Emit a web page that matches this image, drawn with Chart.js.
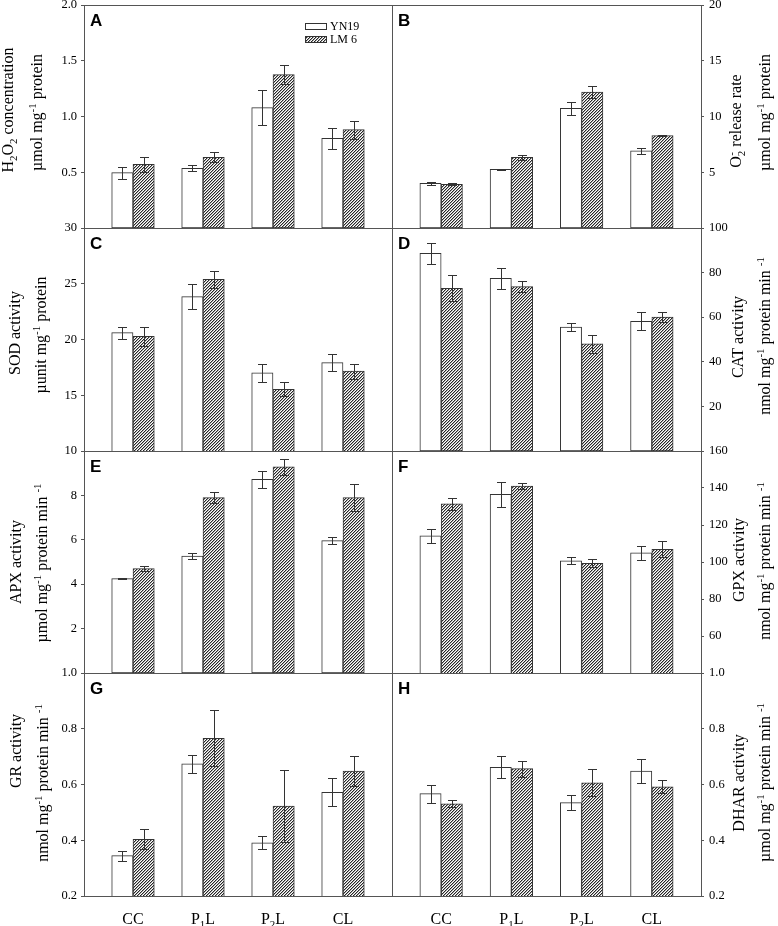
<!DOCTYPE html>
<html>
<head>
<meta charset="utf-8">
<script src="https://cdn.jsdelivr.net/npm/chart.js@4.4.0/dist/chart.umd.min.js"></script>
<style>
    body { margin: 0; background: #fff; width: 778px; height: 926px; position: relative; overflow: hidden; }
    canvas { position: absolute; }
</style>
</head>
<body>
<script>
// Categories and cultivars
const categories = ['CC', 'P1L', 'P2L', 'CL'];
const cultivars = ['YN19', 'LM 6'];

// A - H2O2 concentration
const h2o2YN19 = [0.496, 0.535, 1.079, 0.804];
const h2o2YN19Err = [0.055, 0.027, 0.157, 0.093];
const h2o2LM6 = [0.571, 0.634, 1.375, 0.882];
const h2o2LM6Err = [0.07, 0.045, 0.083, 0.082];
const h2o2Range = [0, 2];
const h2o2Ticks = [0.5, 1.0, 1.5, 2.0];

// B - O2- release rate
const o2YN19 = [4.01, 5.26, 10.73, 6.91];
const o2YN19Err = [0.16, 0.05, 0.61, 0.25];
const o2LM6 = [3.92, 6.34, 12.2, 8.28];
const o2LM6Err = [0.08, 0.24, 0.55, 0.06];
const o2Range = [0, 20];
const o2Ticks = [5, 10, 15, 20];

// C - SOD activity
const sodYN19 = [20.61, 23.84, 17.0, 17.92];
const sodYN19Err = [0.55, 1.1, 0.84, 0.76];
const sodLM6 = [20.28, 25.4, 15.53, 17.17];
const sodLM6Err = [0.88, 0.77, 0.63, 0.67];
const sodRange = [10, 30];
const sodTicks = [15, 20, 25, 30];

// D - CAT activity
const catYN19 = [88.6, 77.4, 55.6, 58.2];
const catYN19Err = [4.7, 4.6, 1.9, 4.1];
const catLM6 = [73.0, 73.7, 48.1, 60.1];
const catLM6Err = [5.8, 2.6, 4.0, 2.4];
const catRange = [0, 100];
const catTicks = [20, 40, 60, 80, 100];

// E - APX activity
const apxYN19 = [4.25, 5.27, 8.72, 5.96];
const apxYN19Err = [0.03, 0.15, 0.4, 0.15];
const apxLM6 = [4.70, 7.90, 9.29, 7.90];
const apxLM6Err = [0.12, 0.25, 0.35, 0.6];
const apxRange = [0, 10];
const apxTicks = [2, 4, 6, 8, 10];

// F - GPX activity
const gpxYN19 = [114.1, 136.6, 100.7, 105.0];
const gpxYN19Err = [4, 6.7, 1.9, 3.8];
const gpxLM6 = [131.5, 141.1, 99.3, 106.9];
const gpxLM6Err = [3.3, 1.6, 2.2, 4.4];
const gpxRange = [40, 160];
const gpxTicks = [60, 80, 100, 120, 140, 160];

// G - GR activity
const grYN19 = [0.345, 0.674, 0.391, 0.572];
const grYN19Err = [0.018, 0.033, 0.024, 0.05];
const grLM6 = [0.403, 0.766, 0.523, 0.648];
const grLM6Err = [0.036, 0.1, 0.13, 0.055];
const grRange = [0.2, 1.0];
const grTicks = [0.2, 0.4, 0.6, 0.8, 1.0];

// H - DHAR activity
const dharYN19 = [0.567, 0.662, 0.535, 0.648];
const dharYN19Err = [0.032, 0.039, 0.028, 0.043];
const dharLM6 = [0.531, 0.657, 0.606, 0.592];
const dharLM6Err = [0.012, 0.029, 0.048, 0.024];
const dharRange = [0.2, 1.0];
const dharTicks = [0.2, 0.4, 0.6, 0.8, 1.0];

// Layout
const SERIF = "'Liberation Serif', 'Times New Roman', serif";
const SANS = "'Liberation Sans', Arial, sans-serif";
const FRAME = '#555';
const INK = '#333';
const ROW_TOP = [5, 228, 451, 673];
const ROW_H = [223, 223, 222, 223];
const PAD = 12;
const X_LABEL_SPACE = 36;

const unitUmol = [{ t: 'µmol mg' }, { t: '-1', m: 'sup' }, { t: ' protein' }];
const unitPerMin = (lead) => [{ t: lead + ' mg' }, { t: '-1', m: 'sup' }, { t: ' protein min ' }, { t: '-1', m: 'sup' }];
const xLabels = [
    [{ t: 'CC' }],
    [{ t: 'P' }, { t: '1', m: 'sub' }, { t: 'L' }],
    [{ t: 'P' }, { t: '2', m: 'sub' }, { t: 'L' }],
    [{ t: 'CL' }]
];

const panels = [
    { letter: 'A', col: 0, row: 0, range: h2o2Range, ticks: h2o2Ticks, dec: 1,
      yn: h2o2YN19, ynErr: h2o2YN19Err, lm: h2o2LM6, lmErr: h2o2LM6Err, legend: true,
      titles: [
          { parts: [{ t: 'H' }, { t: '2', m: 'sub' }, { t: 'O' }, { t: '2', m: 'sub' }, { t: ' concentration' }], x: 12.5, y: 110 },
          { parts: unitUmol, x: 41.5, y: 112.5 }] },
    { letter: 'B', col: 1, row: 0, range: o2Range, ticks: o2Ticks, dec: 0,
      yn: o2YN19, ynErr: o2YN19Err, lm: o2LM6, lmErr: o2LM6Err,
      titles: [
          { parts: [{ t: 'O' }, { t: '2', m: 'sub', over: '-' }, { t: ' release rate' }], x: 741, y: 121 },
          { parts: unitUmol, x: 769.5, y: 112.5 }] },
    { letter: 'C', col: 0, row: 1, range: sodRange, ticks: sodTicks, dec: 0,
      yn: sodYN19, ynErr: sodYN19Err, lm: sodLM6, lmErr: sodLM6Err,
      titles: [
          { parts: [{ t: 'SOD activity' }], x: 19.5, y: 333 },
          { parts: [{ t: 'µunit mg' }, { t: '-1', m: 'sup' }, { t: ' protein' }], x: 46, y: 335 }] },
    { letter: 'D', col: 1, row: 1, range: catRange, ticks: catTicks, dec: 0,
      yn: catYN19, ynErr: catYN19Err, lm: catLM6, lmErr: catLM6Err,
      titles: [
          { parts: [{ t: 'CAT activity' }], x: 742.5, y: 337 },
          { parts: unitPerMin('nmol'), x: 769.5, y: 336 }] },
    { letter: 'E', col: 0, row: 2, range: apxRange, ticks: apxTicks, dec: 0,
      yn: apxYN19, ynErr: apxYN19Err, lm: apxLM6, lmErr: apxLM6Err,
      titles: [
          { parts: [{ t: 'APX activity' }], x: 20.5, y: 562 },
          { parts: unitPerMin('µmol'), x: 47, y: 563 }] },
    { letter: 'F', col: 1, row: 2, range: gpxRange, ticks: gpxTicks, dec: 0,
      yn: gpxYN19, ynErr: gpxYN19Err, lm: gpxLM6, lmErr: gpxLM6Err,
      titles: [
          { parts: [{ t: 'GPX activity' }], x: 744, y: 560 },
          { parts: unitPerMin('nmol'), x: 769.5, y: 561 }] },
    { letter: 'G', col: 0, row: 3, range: grRange, ticks: grTicks, dec: 1,
      yn: grYN19, ynErr: grYN19Err, lm: grLM6, lmErr: grLM6Err,
      titles: [
          { parts: [{ t: 'GR activity' }], x: 20.5, y: 751 },
          { parts: unitPerMin('nmol'), x: 47.5, y: 783 }] },
    { letter: 'H', col: 1, row: 3, range: dharRange, ticks: dharTicks, dec: 1,
      yn: dharYN19, ynErr: dharYN19Err, lm: dharLM6, lmErr: dharLM6Err,
      titles: [
          { parts: [{ t: 'DHAR activity' }], x: 744, y: 783 },
          { parts: unitPerMin('µmol'), x: 770, y: 782.5 }] }
];

// Diagonal hatch fill
function makeHatch(ctx) {
    const tile = document.createElement('canvas');
    tile.width = 3;
    tile.height = 3;
    const t = tile.getContext('2d');
    t.fillStyle = '#fff';
    t.fillRect(0, 0, 3, 3);
    t.fillStyle = '#aaa';
    t.fillRect(1, 2, 1, 1);
    t.fillRect(2, 1, 1, 1);
    t.fillRect(0, 0, 1, 1);
    t.fillStyle = '#262626';
    t.fillRect(0, 2, 1, 1);
    t.fillRect(1, 1, 1, 1);
    t.fillRect(2, 0, 1, 1);
    return ctx.createPattern(tile, 'repeat');
}

// Text with sub/superscripts, centred on the origin, alphabetic baseline
function drawRich(ctx, parts, size) {
    const small = size * 0.68;
    const items = parts.map(p => {
        ctx.font = `${p.m ? small : size}px ${SERIF}`;
        let w = ctx.measureText(p.t).width;
        if (p.over) w = Math.max(w, ctx.measureText(p.over).width);
        return Object.assign({ w }, p);
    });
    const total = items.reduce((s, p) => s + p.w, 0);
    let x = -total / 2;
    ctx.textAlign = 'left';
    ctx.textBaseline = 'alphabetic';
    items.forEach(p => {
        ctx.font = `${p.m ? small : size}px ${SERIF}`;
        const dy = p.m === 'sub' ? size * 0.28 : p.m === 'sup' ? -size * 0.36 : 0;
        ctx.fillText(p.t, x, dy);
        if (p.over) ctx.fillText(p.over, x + 0.5, -size * 0.36);
        x += p.w;
    });
}

function makePanel(p) {
    const left = p.col === 0;
    const bottom = p.row === 3;
    const offX = left ? 0 : 384;
    const offY = ROW_TOP[p.row] - PAD;
    const w = left ? 400 : 394;
    const h = ROW_H[p.row] + PAD + (bottom ? X_LABEL_SPACE : PAD);

    const canvas = document.createElement('canvas');
    canvas.width = w;
    canvas.height = h;
    canvas.style.left = offX + 'px';
    canvas.style.top = offY + 'px';
    canvas.style.width = w + 'px';
    canvas.style.height = h + 'px';
    document.body.appendChild(canvas);
    const ctx = canvas.getContext('2d');
    const hatch = makeHatch(ctx);

    const decor = {
        id: 'decor' + p.letter,
        afterDatasetsDraw(chart) {
            const { chartArea: a, scales: { y } } = chart;
            const c = chart.ctx;
            c.save();
            // error bars
            c.strokeStyle = INK;
            c.lineWidth = 1;
            chart.data.datasets.forEach((ds, d) => {
                const meta = chart.getDatasetMeta(d);
                meta.data.forEach((bar, i) => {
                    const v = ds.data[i].y;
                    const e = ds.errors[i];
                    const top = Math.round(y.getPixelForValue(v + e)) + 0.5;
                    const bot = Math.round(y.getPixelForValue(v - e)) + 0.5;
                    const cx = Math.round(bar.x) + 0.5;
                    c.beginPath();
                    c.moveTo(cx, top); c.lineTo(cx, bot);
                    c.moveTo(cx - 4.5, top); c.lineTo(cx + 4.5, top);
                    c.moveTo(cx - 4.5, bot); c.lineTo(cx + 4.5, bot);
                    c.stroke();
                });
            });
            // panel frame
            c.strokeStyle = FRAME;
            c.strokeRect(a.left + 0.5, a.top + 0.5, a.right - a.left, a.bottom - a.top);
            c.restore();
        },
        afterDraw(chart) {
            const { chartArea: a, scales: { x } } = chart;
            const c = chart.ctx;
            c.save();
            c.fillStyle = '#000';
            // panel letter
            c.font = `bold 17px ${SANS}`;
            c.textAlign = 'left';
            c.textBaseline = 'alphabetic';
            c.fillText(p.letter, a.left + 6, a.top + 20.5);
            // axis titles
            p.titles.forEach(tl => {
                c.save();
                c.translate(tl.x - offX, tl.y - offY);
                c.rotate(-Math.PI / 2);
                drawRich(c, tl.parts, 16);
                c.restore();
            });
            // legend
            if (p.legend) {
                [0, 1].forEach(k => {
                    const bx = a.left + 221.5;
                    const by = a.top + 18.5 + k * 13;
                    c.fillStyle = k ? hatch : '#fff';
                    c.fillRect(bx, by, 21, 6);
                    c.strokeStyle = INK;
                    c.strokeRect(bx, by, 21, 6);
                    c.fillStyle = '#000';
                    c.font = `12px ${SERIF}`;
                    c.textBaseline = 'middle';
                    c.fillText(cultivars[k], a.left + 246, by + 3.5);
                });
            }
            // category labels
            if (bottom) {
                c.fillStyle = '#000';
                categories.forEach((cat, i) => {
                    c.save();
                    c.translate(x.getPixelForValue(i + 1), a.bottom + 28);
                    drawRich(c, xLabels[i], 16);
                    c.restore();
                });
            }
            c.restore();
        }
    };

    return new Chart(ctx, {
        type: 'bar',
        data: {
            datasets: [
                {
                    label: cultivars[0],
                    data: p.yn.map((v, i) => ({ x: i + 1, y: v })),
                    errors: p.ynErr,
                    backgroundColor: '#fff',
                    borderColor: INK,
                    borderWidth: 1,
                    borderSkipped: false,
                    barThickness: 21.3
                },
                {
                    label: cultivars[1],
                    data: p.lm.map((v, i) => ({ x: i + 1, y: v })),
                    errors: p.lmErr,
                    backgroundColor: hatch,
                    borderColor: INK,
                    borderWidth: 1,
                    borderSkipped: false,
                    barThickness: 21.3
                }
            ]
        },
        options: {
            responsive: false,
            animation: false,
            devicePixelRatio: 1,
            events: [],
            layout: {
                padding: {
                    left: left ? 0 : 8,
                    right: left ? 8 : 0,
                    top: PAD,
                    bottom: bottom ? X_LABEL_SPACE : PAD
                }
            },
            plugins: {
                legend: { display: false },
                tooltip: { enabled: false }
            },
            scales: {
                x: {
                    type: 'linear',
                    min: 0.3,
                    max: 4.7,
                    offset: false,
                    display: false,
                    afterFit: s => { s.height = 0; s.paddingLeft = 0; s.paddingRight = 0; }
                },
                y: {
                    position: left ? 'left' : 'right',
                    min: p.range[0],
                    max: p.range[1],
                    border: { display: false },
                    grid: { drawOnChartArea: false, drawTicks: true, tickLength: 3, color: FRAME },
                    ticks: {
                        color: '#000',
                        padding: left ? 4 : 5,
                        font: { family: SERIF, size: 12.5 },
                        callback: v => Number(v).toFixed(p.dec)
                    },
                    afterBuildTicks: s => { s.ticks = p.ticks.map(v => ({ value: v })); },
                    afterFit: s => { s.width = left ? 84 : 77; s.paddingTop = 0; s.paddingBottom = 0; }
                }
            }
        },
        plugins: [decor]
    });
}

document.addEventListener('DOMContentLoaded', () => {
    panels.forEach(makePanel);
});
</script>
</body>
</html>
